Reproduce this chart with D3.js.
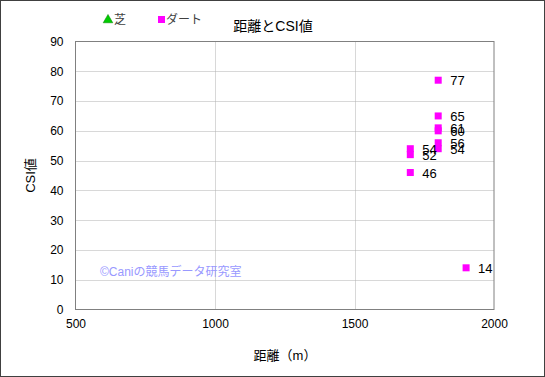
<!DOCTYPE html>
<html>
<head>
<meta charset="utf-8">
<script src="https://cdn.jsdelivr.net/npm/d3@7"></script>
<style>
  body { margin: 0; background: #fff; }
  text { font-family: "Liberation Sans", "Noto Sans CJK JP", sans-serif; }
</style>
</head>
<body>
<div id="chart"></div>
<script>
// distance (m) and CSI value for each race (dirt only)
var distances = [1800, 1800, 1800, 1800, 1800, 1800, 1700, 1700, 1700, 1900];
var csiValues = [77, 65, 61, 60, 56, 54, 54, 52, 46, 14];
var xTicks = [500, 1000, 1500, 2000];
var yTicks = [0, 10, 20, 30, 40, 50, 60, 70, 80, 90];
var legendNames = ["芝", "ダート"];

var width = 545, height = 377;
var margin = {left: 75.5, right: 51, top: 41.5, bottom: 67.5};

var svg = d3.select('#chart').append('svg')
    .attr('width', width)
    .attr('height', height);

// outer frame
svg.append('rect')
    .attr('x', 0.5).attr('y', 0.5)
    .attr('width', width - 1).attr('height', height - 1)
    .style('fill', '#fff')
    .style('stroke', '#404040')
    .style('stroke-width', 1);

var x = d3.scaleLinear().domain([500, 2000]).range([margin.left, width - margin.right]);
var y = d3.scaleLinear().domain([0, 90]).range([height - margin.bottom, margin.top]);

// grid lines
svg.append('g').selectAll('line')
    .data(yTicks.slice(1, -1))
    .enter().append('line')
    .attr('x1', x(500)).attr('x2', x(2000))
    .attr('y1', d => Math.round(y(d)) + 0.5).attr('y2', d => Math.round(y(d)) + 0.5)
    .style('stroke', '#b0b0b0')
    .style('stroke-dasharray', '1,1');

svg.append('g').selectAll('line')
    .data(xTicks.slice(1, -1))
    .enter().append('line')
    .attr('x1', d => Math.round(x(d)) + 0.5).attr('x2', d => Math.round(x(d)) + 0.5)
    .attr('y1', y(0)).attr('y2', y(90))
    .style('stroke', '#b0b0b0')
    .style('stroke-dasharray', '1,1');

// plot border
svg.append('rect')
    .attr('x', x(500)).attr('y', y(90))
    .attr('width', x(2000) - x(500)).attr('height', y(0) - y(90))
    .style('fill', 'none')
    .style('stroke', '#808080')
    .style('stroke-width', 1);

// axes
var xAxis = svg.append('g')
    .attr('transform', 'translate(0,' + y(0) + ')')
    .call(d3.axisBottom(x).tickValues(xTicks).tickFormat(d3.format('d')).tickSize(0).tickPadding(10));
var yAxis = svg.append('g')
    .attr('transform', 'translate(' + x(500) + ',0)')
    .call(d3.axisLeft(y).tickValues(yTicks).tickFormat(d3.format('d')).tickSize(0).tickPadding(12));
[xAxis, yAxis].forEach(function(a){
    a.select('.domain').remove();
    a.selectAll('text')
        .style('font-size', '12px')
        .style('fill', '#000');
});

// watermark
svg.append('text')
    .attr('x', 100).attr('y', 276)
    .style('font-size', '12px')
    .style('fill', '#9999ff')
    .text('©Caniの競馬データ研究室');

// points
var pts = svg.append('g').selectAll('g')
    .data(distances.map((d, i) => ({dist: d, csi: csiValues[i]})))
    .enter().append('g');

pts.append('rect')
    .attr('x', d => x(d.dist) - 3.5)
    .attr('y', d => y(d.csi) - 3.5)
    .attr('width', 7).attr('height', 7)
    .style('fill', '#ff00ff');

pts.append('text')
    .attr('x', d => x(d.dist) + 12)
    .attr('y', d => y(d.csi) + 5)
    .style('font-size', '13px')
    .style('fill', '#000')
    .text(d => d.csi);

// legend
var leg = svg.append('g');
leg.append('path')
    .attr('d', d3.symbol().type(d3.symbolTriangle).size(40))
    .attr('transform', 'translate(108,20)')
    .style('fill', '#00cc00')
    .style('stroke', '#008000')
    .style('stroke-width', 0.5);
leg.append('text')
    .attr('x', 114).attr('y', 24)
    .style('font-size', '12px')
    .style('fill', '#404040')
    .text(legendNames[0]);
leg.append('rect')
    .attr('x', 158).attr('y', 16)
    .attr('width', 7).attr('height', 7)
    .style('fill', '#ff00ff');
leg.append('text')
    .attr('x', 166).attr('y', 24)
    .style('font-size', '12px')
    .style('fill', '#404040')
    .text(legendNames[1]);

// title
svg.append('text')
    .attr('x', 273).attr('y', 31)
    .attr('text-anchor', 'middle')
    .style('font-size', '14px')
    .style('fill', '#000')
    .text('距離とCSI値');

// axis titles
svg.append('text')
    .attr('x', 285).attr('y', 360)
    .attr('text-anchor', 'middle')
    .style('font-size', '13px')
    .style('fill', '#000')
    .text('距離（m）');

svg.append('text')
    .attr('transform', 'translate(35,' + (y(45)) + ') rotate(-90)')
    .attr('text-anchor', 'middle')
    .style('font-size', '13px')
    .style('fill', '#000')
    .text('CSI値');
</script>
</body>
</html>
